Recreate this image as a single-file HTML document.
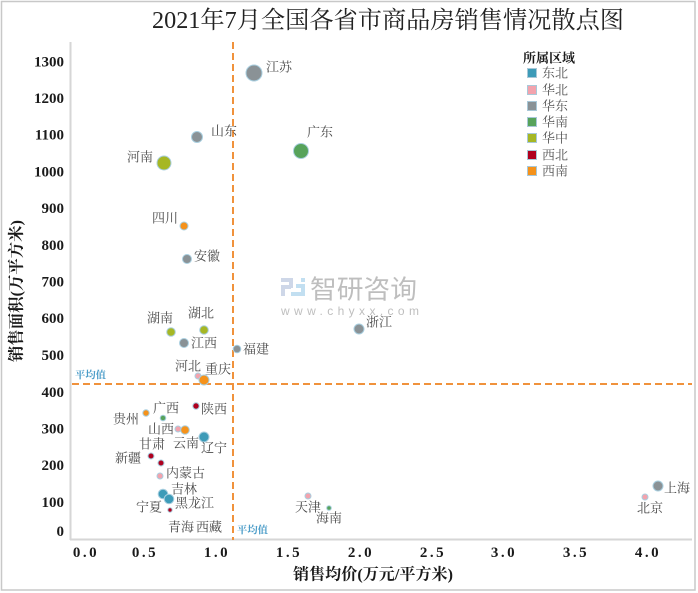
<!DOCTYPE html>
<html>
<head>
<meta charset="utf-8">
<style>
  html, body { margin:0; padding:0; background:#ffffff; }
  svg { display:block; }
  .lbl { font-family:"Liberation Serif","Noto Serif CJK SC",serif; font-size:13px; fill:#4a4a4a; dominant-baseline:central; }
  .tick { font-family:"Liberation Serif","Noto Serif CJK SC",serif; font-size:15px; font-weight:bold; fill:#1a1a1a; dominant-baseline:central; }
  .xt { letter-spacing:2.5px; }
  .axt { font-family:"Liberation Serif","Noto Serif CJK SC",serif; font-size:16px; font-weight:bold; fill:#1a1a1a; dominant-baseline:central; }
  .avg { font-family:"Liberation Serif","Noto Serif CJK SC",serif; font-size:10px; font-weight:bold; fill:#4a9cc8; dominant-baseline:central; }
  .leg { font-family:"Liberation Serif","Noto Serif CJK SC",serif; font-size:13px; fill:#555; dominant-baseline:central; }
</style>
</head>
<body>
<svg width="698" height="593" viewBox="0 0 698 593" xmlns="http://www.w3.org/2000/svg">
  <rect x="0" y="0" width="698" height="593" fill="#ffffff"/>
  <rect x="1.5" y="1.5" width="693.5" height="588.5" fill="none" stroke="#c8c8c8" stroke-width="1.5"/>

  <!-- Title -->
  <text x="152" y="21" font-family="'Liberation Serif','Noto Serif CJK SC',serif" font-size="24" fill="#222" dominant-baseline="central" textLength="472" lengthAdjust="spacingAndGlyphs">2021年7月全国各省市商品房销售情况散点图</text>

  <!-- watermark -->
  <g opacity="0.9">
    <rect x="281" y="278" width="12" height="4" fill="#c9d3e6"/>
    <rect x="289" y="278" width="4" height="10" fill="#c9d3e6"/>
    <rect x="281" y="285" width="10" height="4" fill="#c9d3e6"/>
    <rect x="281" y="285" width="4" height="11" fill="#c9d3e6"/>
    <rect x="296" y="284" width="9" height="4" fill="#bcdcf0"/>
    <rect x="301" y="284" width="4" height="12" fill="#bcdcf0"/>
    <rect x="291" y="292" width="14" height="4" fill="#bcdcf0"/>
    <rect x="301" y="278" width="4" height="4" fill="#bcdcf0"/>
    <text x="310" y="288" font-family="'Noto Sans CJK SC',sans-serif" font-size="26" fill="#b8b8b8" dominant-baseline="central" textLength="107" lengthAdjust="spacingAndGlyphs">智研咨询</text>
    <text x="281" y="311" font-family="'Liberation Sans',sans-serif" font-size="12" fill="#b8b8b8" dominant-baseline="central" textLength="138" lengthAdjust="spacing">www.chyxx.com</text>
  </g>

  <!-- axes -->
  <line x1="70.5" y1="42" x2="70.5" y2="540" stroke="#d6d6d6" stroke-width="2"/>
  <line x1="70" y1="539.5" x2="692" y2="539.5" stroke="#d6d6d6" stroke-width="2"/>

  <!-- y ticks -->
  <g class="tick" text-anchor="end">
    <text x="64" y="62.5">1300</text>
    <text x="64" y="99">1200</text>
    <text x="64" y="135.7">1100</text>
    <text x="64" y="172.5">1000</text>
    <text x="64" y="209">900</text>
    <text x="64" y="246">800</text>
    <text x="64" y="282.5">700</text>
    <text x="64" y="319">600</text>
    <text x="64" y="356">500</text>
    <text x="64" y="393">400</text>
    <text x="64" y="429.5">300</text>
    <text x="64" y="466">200</text>
    <text x="64" y="503">100</text>
    <text x="64" y="532">0</text>
  </g>

  <!-- x ticks -->
  <g class="tick xt" text-anchor="middle">
    <text x="86" y="553">0.0</text>
    <text x="145" y="553">0.5</text>
    <text x="217" y="553">1.0</text>
    <text x="289" y="553">1.5</text>
    <text x="361" y="553">2.0</text>
    <text x="433" y="553">2.5</text>
    <text x="504" y="553">3.0</text>
    <text x="576" y="553">3.5</text>
    <text x="648" y="553">4.0</text>
  </g>

  <!-- axis titles -->
  <text class="axt" x="373" y="575" text-anchor="middle" textLength="160" lengthAdjust="spacingAndGlyphs">销售均价(万元/平方米)</text>
  <text class="axt" x="0" y="0" text-anchor="middle" transform="translate(17,291) rotate(-90)" textLength="142" lengthAdjust="spacingAndGlyphs">销售面积(万平方米)</text>

  <!-- average lines -->
  <line x1="233" y1="42" x2="233" y2="540" stroke="#f0923c" stroke-width="2" stroke-dasharray="7,4"/>
  <line x1="72" y1="384" x2="692" y2="384" stroke="#f0923c" stroke-width="2" stroke-dasharray="7,4"/>
  <text class="avg" x="75" y="376" textLength="31" lengthAdjust="spacingAndGlyphs">平均值</text>
  <text class="avg" x="237" y="531" textLength="31" lengthAdjust="spacingAndGlyphs">平均值</text>

  <!-- points -->
  <g stroke="#a9cfe0" stroke-width="1">
    <circle cx="254" cy="73" r="8" fill="#8a9296"/>
    <circle cx="197" cy="137" r="5.5" fill="#8a9296"/>
    <circle cx="301" cy="151" r="7.5" fill="#57a35b"/>
    <circle cx="164" cy="163" r="7" fill="#a6b724"/>
    <circle cx="184" cy="226" r="4" fill="#f5921b"/>
    <circle cx="187" cy="259" r="4.5" fill="#8a9296"/>
    <circle cx="359" cy="329" r="5" fill="#8a9296"/>
    <circle cx="171" cy="332" r="4.3" fill="#a6b724"/>
    <circle cx="204" cy="330" r="4.3" fill="#a6b724"/>
    <circle cx="184" cy="343" r="4.5" fill="#8a9296"/>
    <circle cx="237" cy="349" r="3.8" fill="#8a9296"/>
    <circle cx="198" cy="376" r="3" fill="#f3a3ad"/>
    <circle cx="204" cy="380" r="5" fill="#f5921b"/>
    <circle cx="163" cy="418" r="2.8" fill="#57a35b"/>
    <circle cx="146" cy="413" r="3.2" fill="#f5921b"/>
    <circle cx="196" cy="406" r="3.2" fill="#b0001e"/>
    <circle cx="178" cy="429" r="3" fill="#f3a3ad"/>
    <circle cx="185" cy="430" r="4.3" fill="#f5921b"/>
    <circle cx="204" cy="437" r="5" fill="#3d9bb8"/>
    <circle cx="151" cy="456" r="3" fill="#b0001e"/>
    <circle cx="161" cy="463" r="3" fill="#b0001e"/>
    <circle cx="160" cy="476" r="3" fill="#f3a3ad"/>
    <circle cx="163" cy="494" r="4.8" fill="#3d9bb8"/>
    <circle cx="169" cy="499" r="4.8" fill="#3d9bb8"/>
    <circle cx="170" cy="510" r="2.2" fill="#b0001e"/>
    <circle cx="308" cy="496" r="3" fill="#f3a3ad"/>
    <circle cx="329" cy="508" r="2.3" fill="#57a35b"/>
    <circle cx="658" cy="486" r="5" fill="#8a9296"/>
    <circle cx="645" cy="497" r="3" fill="#f3a3ad"/>
  </g>

  <!-- labels -->
  <g class="lbl">
    <text x="266" y="67">江苏</text>
    <text x="211" y="131">山东</text>
    <text x="307" y="132">广东</text>
    <text x="127" y="157">河南</text>
    <text x="152" y="218">四川</text>
    <text x="194" y="256">安徽</text>
    <text x="366" y="322">浙江</text>
    <text x="147" y="318">湖南</text>
    <text x="188" y="313">湖北</text>
    <text x="191" y="343">江西</text>
    <text x="243" y="349">福建</text>
    <text x="175" y="366">河北</text>
    <text x="205" y="369">重庆</text>
    <text x="153" y="408">广西</text>
    <text x="113" y="419">贵州</text>
    <text x="201" y="409">陕西</text>
    <text x="148" y="429">山西</text>
    <text x="173" y="443">云南</text>
    <text x="201" y="448">辽宁</text>
    <text x="139" y="444">甘肃</text>
    <text x="115" y="458">新疆</text>
    <text x="166" y="473">内蒙古</text>
    <text x="171" y="489">吉林</text>
    <text x="175" y="503">黑龙江</text>
    <text x="136" y="507">宁夏</text>
    <text x="168" y="527">青海</text>
    <text x="196" y="527">西藏</text>
    <text x="295" y="507">天津</text>
    <text x="316" y="518">海南</text>
    <text x="664" y="488">上海</text>
    <text x="637" y="508">北京</text>
  </g>

  <!-- legend -->
  <text x="523" y="58" font-family="'Liberation Serif','Noto Serif CJK SC',serif" font-size="13" font-weight="bold" fill="#1a1a1a" dominant-baseline="central">所属区域</text>
  <g stroke="#a9c8d8" stroke-width="1">
    <rect x="527.5" y="68.5" width="9" height="9" fill="#3d9bb8"/>
    <rect x="527.5" y="85.5" width="9" height="9" fill="#f3a3ad"/>
    <rect x="527.5" y="101.5" width="9" height="9" fill="#8a9296"/>
    <rect x="527.5" y="117.5" width="9" height="9" fill="#57a35b"/>
    <rect x="527.5" y="133.5" width="9" height="9" fill="#a6b724"/>
    <rect x="527.5" y="150.5" width="9" height="9" fill="#b0001e"/>
    <rect x="527.5" y="166.5" width="9" height="9" fill="#f5921b"/>
  </g>
  <g class="leg">
    <text x="542" y="73">东北</text>
    <text x="542" y="90">华北</text>
    <text x="542" y="106">华东</text>
    <text x="542" y="122">华南</text>
    <text x="542" y="138">华中</text>
    <text x="542" y="155">西北</text>
    <text x="542" y="171">西南</text>
  </g>
</svg>
</body>
</html>
